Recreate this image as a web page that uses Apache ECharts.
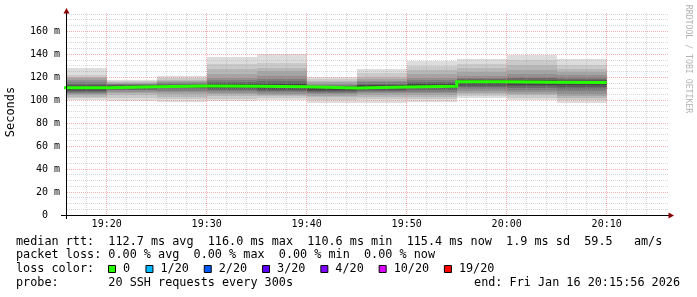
<!DOCTYPE html>
<html><head><meta charset="utf-8">
<script src="https://cdn.jsdelivr.net/npm/echarts@6/dist/echarts.min.js"></script>
<style>html,body{margin:0;padding:0;background:#fff}#c{width:697px;height:297px}</style>
</head><body><div id="c"></div>
<script>
// ---- data ----
const stepStarts = ['19:15','19:20','19:25','19:30','19:35','19:40','19:45','19:50','19:55','20:00','20:05'];
const stepMinutes = 5;
// sorted RTTs (ms) of the 20 pings per step
const rtt_1915 = [100.3,101.6,103.0,104.2,105.3,106.4,107.2,108.0,108.8,110.2,111.4,112.2,113.2,114.5,116.0,117.6,119.0,120.5,122.0,128.3];
const rtt_1920 = [99.4,102.0,104.8,106.2,107.5,108.7,109.3,110.0,110.6,111.2,112.2,112.6,112.9,113.3,113.8,114.3,115.0,115.8,116.8,118.0];
const rtt_1925 = [98.6,100.8,103.2,105.0,106.8,108.4,109.5,110.4,111.2,111.9,112.7,113.0,113.4,113.9,114.6,115.6,116.8,118.0,119.0,121.0];
const rtt_1930 = [99.0,101.5,104.0,105.2,106.5,107.8,109.0,109.9,110.8,111.6,112.8,113.8,114.8,116.0,117.5,119.5,122.5,127.0,132.0,138.0];
const rtt_1935 = [100.0,101.8,103.4,104.6,105.8,107.0,108.0,108.9,109.8,110.8,112.6,113.9,115.2,116.8,118.8,121.5,125.5,128.5,132.5,140.3];
const rtt_1940 = [97.7,100.5,103.0,104.1,105.3,106.5,107.4,108.3,109.2,110.0,111.2,111.7,112.2,112.8,113.5,114.5,115.6,116.8,118.5,120.3];
const rtt_1945 = [98.0,100.8,103.2,104.8,106.2,107.5,108.4,109.3,110.2,110.9,112.3,113.0,113.6,114.5,115.5,116.8,118.5,120.3,123.5,127.0];
const rtt_1950 = [98.5,100.8,103.2,104.8,106.2,107.5,108.7,109.6,110.6,111.5,112.9,113.8,114.8,116.0,117.5,119.5,122.5,126.0,130.0,134.0];
const rtt_1955 = [102.2,103.3,105.0,106.5,108.0,109.5,111.2,112.8,114.2,115.3,116.7,117.2,117.7,118.5,119.8,121.5,124.5,128.0,131.5,135.7];
const rtt_2000 = [100.0,102.2,104.2,105.6,107.2,108.8,110.5,112.0,113.5,114.7,116.5,117.2,118.0,119.0,120.5,123.0,126.5,131.0,135.0,139.7];
const rtt_2005 = [97.2,100.0,102.2,103.8,105.5,107.8,109.7,111.5,113.3,114.7,116.1,116.8,117.6,118.8,120.3,122.0,124.5,127.0,130.5,136.3];
const rttSteps = [rtt_1915,rtt_1920,rtt_1925,rtt_1930,rtt_1935,rtt_1940,rtt_1945,rtt_1950,rtt_1955,rtt_2000,rtt_2005];
const medianRtt = [110.8,111.7,112.3,112.2,111.7,110.6,111.6,112.2,116.0,115.6,115.4];

const xStart = '19:15:56', xEnd = '20:15:56';
const xTickLabels = ['19:20','19:30','19:40','19:50','20:00','20:10'];
const yTicks = [0,20,40,60,80,100,120,140,160];
const yMax = 176;

const statsLine1 = 'median rtt:  112.7 ms avg  116.0 ms max  110.6 ms min  115.4 ms now  1.9 ms sd  59.5   am/s';
const statsLine2 = 'packet loss: 0.00 % avg  0.00 % max  0.00 % min  0.00 % now';
const lossLabels = ['0','1/20','2/20','3/20','4/20','10/20','19/20'];
const lossColors = ['#26ff00','#00b8ff','#0059ff','#5e00ff','#7e00ff','#dd00ff','#ff0000'];
const probeLine = 'probe:       20 SSH requests every 300s';
const endLine = 'end: Fri Jan 16 20:15:56 2026';

// ---- styles ----
const smokeColors = ['#dddddd','#cacaca','#b7b7b7','#a4a4a4','#919191','#7e7e7e','#6b6b6b','#585858','#454545','#323232'];
const MONO = "'DejaVu Sans Mono', monospace";

function toMin(s){ const p = s.split(':').map(Number); return p[0]*60 + p[1] + (p[2]||0)/60; }
function fmt(m){ const h = Math.floor(m/60), mm = Math.round(m - h*60); return String(h).padStart(2,'0') + ':' + String(mm).padStart(2,'0'); }

const xMin = toMin(xStart), xMax = toMin(xEnd);

// smoke bands
const smokeData = [];
rttSteps.forEach((p, i) => {
  const t0 = toMin(stepStarts[i]), t1 = t0 + stepMinutes;
  const n = p.length;
  for (let k = 0; k < n/2; k++) smokeData.push([t0, t1, p[k], p[n-1-k], k]);
});
// median line
const medData = [];
medianRtt.forEach((m, i) => {
  const t0 = toMin(stepStarts[i]);
  medData.push([t0, m], [t0 + stepMinutes, m]);
});
// grid lines: [value, kind] kind 0 v-minor, 1 v-major, 2 h-minor, 3 h-major
const gridData = [];
for (let t = Math.ceil(xMin/2)*2; t < xMax - 0.5; t += 2) gridData.push([t, t % 10 === 0 ? 1 : 0]);
for (let v = 5; v < yMax; v += 5) gridData.push([v, v % 20 === 0 ? 3 : 2]);

const chart = echarts.init(document.getElementById('c'), null, {renderer:'canvas'});
const gLeft = 66, gRight = 31, gTop = 13, gBottom = 82;

chart.setOption({
  animation: false,
  backgroundColor: '#ffffff',
  grid: {left: gLeft, right: gRight, top: gTop, bottom: gBottom, outerBoundsMode: 'none'},
  xAxis: {
    type: 'value', min: xMin, max: xMax, z: 6,
    axisLine: {show: true, lineStyle: {color: '#000', width: 1}},
    axisTick: {show: false},
    splitLine: {show: false},
    axisLabel: {customValues: xTickLabels.map(toMin), formatter: v => fmt(v), color: '#000',
      fontFamily: 'DejaVu Sans Mono', fontSize: 10, margin: 4, showMinLabel: true, showMaxLabel: true}
  },
  yAxis: {
    type: 'value', min: 0, max: yMax, z: 6,
    axisLine: {show: true, lineStyle: {color: '#000', width: 1}},
    axisTick: {show: false},
    splitLine: {show: false},
    axisLabel: {customValues: yTicks, formatter: v => v === 0 ? '0  ' : v + ' m', color: '#000',
      fontFamily: 'DejaVu Sans Mono', fontSize: 10, margin: 6}
  },
  series: [
    {
      type: 'custom', z: 2, clip: true,
      data: smokeData,
      encode: {x: [0,1], y: [2,3]},
      renderItem: (params, api) => {
        const a = api.coord([api.value(0), api.value(3)]);
        const b = api.coord([api.value(1), api.value(2)]);
        const x0 = Math.round(a[0]), x1 = Math.round(b[0]), y0 = Math.round(a[1]), y1 = Math.round(b[1]);
        const cs = params.coordSys;
        const r = echarts.graphic.clipRectByRect({x: x0, y: y0, width: x1 - x0, height: y1 - y0},
          {x: cs.x + 1, y: cs.y, width: cs.width - 1, height: cs.height});
        if (!r) return;
        return {type: 'rect', shape: r, style: {fill: smokeColors[api.value(4)]}};
      }
    },
    {
      type: 'custom', z: 3, silent: true,
      data: gridData,
      encode: {x: 0},
      renderItem: (params, api) => {
        const v = api.value(0), kind = api.value(1), cs = params.coordSys;
        let shape;
        if (kind < 2) {
          const x = Math.floor(api.coord([v, 0])[0]) + 0.5;
          shape = {x1: x, y1: cs.y, x2: x, y2: cs.y + cs.height};
        } else {
          const y = Math.floor(api.coord([xMin, v])[1]) + 0.5;
          shape = {x1: cs.x + 1, y1: y, x2: cs.x + cs.width + 2, y2: y};
        }
        return {type: 'line', shape,
          style: {stroke: kind % 2 ? 'rgba(240,120,120,0.6)' : 'rgba(160,160,160,0.42)', lineWidth: 1, lineDash: [1,1]}};
      }
    },
    {
      type: 'line', z: 4, data: medData, showSymbol: false, symbol: 'none', clip: true,
      lineStyle: {color: '#26ff00', width: 3, join: 'miter', cap: 'butt'}
    }
  ],
  graphic: [
    // axis extensions and arrows
    {type: 'line', shape: {x1: 61, y1: 215.5, x2: 67, y2: 215.5}, style: {stroke: '#000', lineWidth: 1}, z: 10},
    {type: 'line', shape: {x1: 665, y1: 215.5, x2: 670, y2: 215.5}, style: {stroke: '#000', lineWidth: 1}, z: 10},
    {type: 'line', shape: {x1: 66.5, y1: 214, x2: 66.5, y2: 219}, style: {stroke: '#000', lineWidth: 1}, z: 10},
    {type: 'polygon', shape: {points: [[668.5, 212.5], [668.5, 218.5], [674, 215.5]]}, style: {fill: '#8b0000'}, z: 11},
    {type: 'polygon', shape: {points: [[63.5, 13.5], [69.5, 13.5], [66.5, 8]]}, style: {fill: '#8b0000'}, z: 11},
    // titles
    {type: 'text', x: 11, y: 112, rotation: Math.PI/2, z: 10,
      style: {text: 'Seconds', font: '12px ' + MONO, fill: '#000', align: 'center', verticalAlign: 'middle'}},
    {type: 'text', x: 688, y: 59, rotation: -Math.PI/2, z: 10,
      style: {text: 'RRDTOOL / TOBI OETIKER', font: '8.2px ' + MONO, fill: '#b4b4b4', align: 'center', verticalAlign: 'middle'}},
    // legend lines
    {type: 'text', x: 16, y: 241.7, z: 10, style: {text: statsLine1, font: '11.8px ' + MONO, fill: '#000', verticalAlign: 'middle'}},
    {type: 'text', x: 16, y: 255.2, z: 10, style: {text: statsLine2, font: '11.8px ' + MONO, fill: '#000', verticalAlign: 'middle'}},
    {type: 'text', x: 16, y: 269.3, z: 10, style: {text: 'loss color:', font: '11.8px ' + MONO, fill: '#000', verticalAlign: 'middle'}},
    {type: 'text', x: 16, y: 282.8, z: 10, style: {text: probeLine, font: '11.8px ' + MONO, fill: '#000', verticalAlign: 'middle'}},
    {type: 'text', x: 680, y: 282.8, z: 10, style: {text: endLine, font: '11.8px ' + MONO, fill: '#000', align: 'right', verticalAlign: 'middle'}}
  ].concat((() => {
    const out = []; let x = 108.5;
    lossLabels.forEach((lab, i) => {
      out.push({type: 'rect', shape: {x: x, y: 265.5, width: 7, height: 7}, style: {fill: lossColors[i], stroke: '#000', lineWidth: 1}, z: 10});
      out.push({type: 'text', x: x + 14.5, y: 269.3, z: 10, style: {text: lab, font: '11.8px ' + MONO, fill: '#000', verticalAlign: 'middle'}});
      x += 30.5 + lab.length * 6.95;
    });
    return out;
  })())
});
</script></body></html>
